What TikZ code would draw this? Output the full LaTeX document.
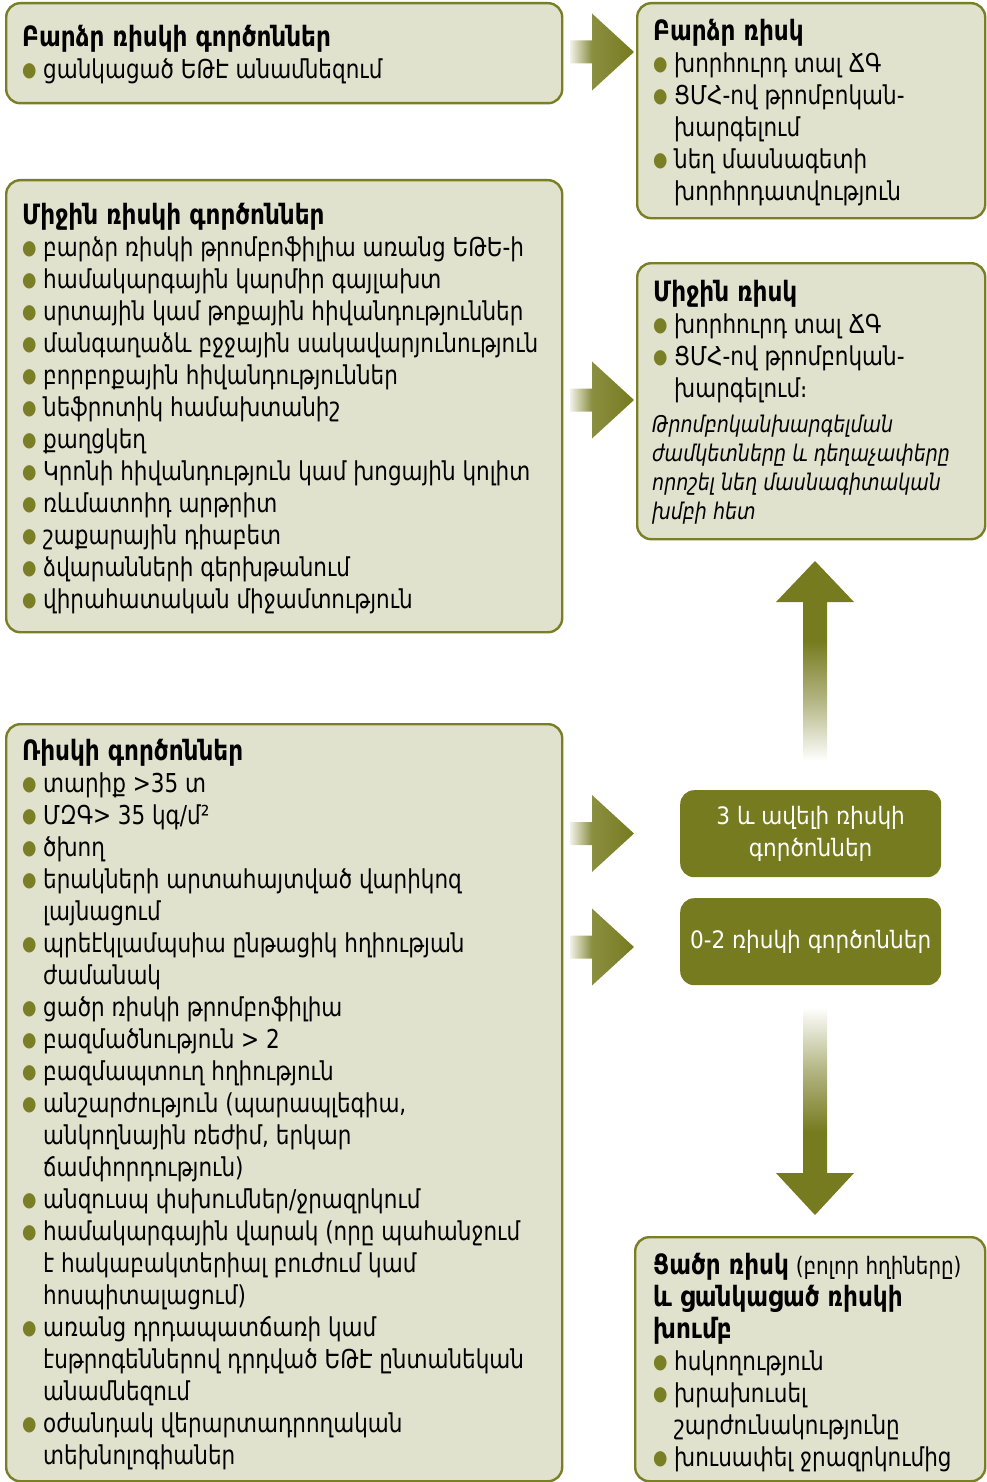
\documentclass[tikz,border=0pt]{standalone}
\usepackage{fontspec}
\setmainfont[FakeStretch=0.92]{DejaVu Sans Condensed}
\newfontfamily\plainfont{DejaVu Sans Condensed}
\definecolor{oliv}{RGB}{118,123,31}
\definecolor{boxline}{RGB}{122,126,36}
\definecolor{boxfill}{RGB}{225,226,206}
\pgfdeclarehorizontalshading{harrow}{100bp}{color(0bp)=(oliv!10); color(25bp)=(oliv!10); color(42bp)=(oliv!85); color(75bp)=(oliv); color(100bp)=(oliv)}
\pgfdeclareverticalshading{uparrow}{100bp}{color(0bp)=(white); color(25bp)=(white); color(40bp)=(oliv!55); color(55bp)=(oliv); color(100bp)=(oliv)}
\pgfdeclareverticalshading{downarrow}{100bp}{color(0bp)=(oliv); color(45bp)=(oliv); color(60bp)=(oliv!55); color(75bp)=(white); color(100bp)=(white)}
\newcommand{\bul}{\makebox[21pt][l]{\raisebox{2pt}{\color{boxline}\fontsize{20}{20}\selectfont ●}}}
\newcommand{\ind}{\hspace*{21pt}}
\newcommand{\ttl}[1]{{\fontsize{28}{32}\selectfont\bfseries #1}}
\tikzset{
  box/.style={draw=boxline, line width=2.4pt, fill=boxfill, rounded corners=14pt, anchor=north west, inner sep=0pt},
  darkbox/.style={fill=oliv, rounded corners=14pt, anchor=north west, inner sep=0pt, text=white, align=center, font=\plainfont\fontsize{24}{32}\selectfont},
  txt/.style={anchor=north west, inner sep=0pt, align=left, font=\fontsize{26}{32}\selectfont},
  itxt/.style={anchor=north west, inner sep=0pt, align=left, font=\fontsize{23}{29}\selectfont\itshape}
}
\begin{document}
\begin{tikzpicture}[x=1pt,y=-1pt]
\useasboundingbox (0,0) rectangle (986,1482);
% boxes
\node[box, minimum width=556pt, minimum height=100pt] (A) at (5,2) {};
\node[box, minimum width=348pt, minimum height=215pt] (B) at (636,2) {};
\node[box, minimum width=556pt, minimum height=452pt] (C) at (5,179) {};
\node[box, minimum width=348pt, minimum height=276pt] (D) at (636,262) {};
\node[box, minimum width=556pt, minimum height=757pt] (E) at (5,723) {};
\node[box, minimum width=350pt, minimum height=244pt] (H) at (634,1236) {};
\node[darkbox, minimum width=261pt, minimum height=87pt] (F) at (680,790) {3 և ավելի ռիսկի\\գործոններ};
\node[darkbox, minimum width=261pt, minimum height=87pt] (G) at (680,898) {0-2 ռիսկի գործոններ};
% texts
\node[txt] (Atxt) at (22,46-22.4) {\strut\ttl{Բարձր ռիսկի գործոններ}\\
\bul ցանկացած ԵԹԷ անամնեզում};
\node[txt] (Btxt) at (653,40-22.4) {\strut\ttl{Բարձր ռիսկ}\\
\bul խորհուրդ տալ ՃԳ\\
\bul ՑՄՀ-ով թրոմբոկան-\\
\ind խարգելում\\
\bul նեղ մասնագետի\\
\ind խորհրդատվություն};
\node[txt] (Ctxt) at (22,224-22.4) {\strut\ttl{Միջին ռիսկի գործոններ}\\
\bul բարձր ռիսկի թրոմբոֆիլիա առանց ԵԹԵ-ի\\
\bul համակարգային կարմիր գայլախտ\\
\bul սրտային կամ թոքային հիվանդություններ\\
\bul մանգաղաձև բջջային սակավարյունություն\\
\bul բորբոքային հիվանդություններ\\
\bul նեֆրոտիկ համախտանիշ\\
\bul քաղցկեղ\\
\bul Կրոնի հիվանդություն կամ խոցային կոլիտ\\
\bul ռևմատոիդ արթրիտ\\
\bul շաքարային դիաբետ\\
\bul ձվարանների գերխթանում\\
\bul վիրահատական միջամտություն};
\node[txt] (Dtxt) at (653,301-22.4) {\strut\ttl{Միջին ռիսկ}\\
\bul խորհուրդ տալ ՃԳ\\
\bul ՑՄՀ-ով թրոմբոկան-\\
\ind խարգելում։};
\node[itxt] (Ditxt) at (652,432-20.3) {\strut Թրոմբոկանխարգելման\\
ժամկետները և դեղաչափերը\\
որոշել նեղ մասնագիտական\\
խմբի հետ};
\node[txt] (Etxt) at (22,760-22.4) {\strut\ttl{Ռիսկի գործոններ}\\
\bul տարիք >35 տ\\
\bul ՄԶԳ> 35 կգ/մ²\\
\bul ծխող\\
\bul երակների արտահայտված վարիկոզ\\
\ind լայնացում\\
\bul պրեէկլամպսիա ընթացիկ հղիության\\
\ind ժամանակ\\
\bul ցածր ռիսկի թրոմբոֆիլիա\\
\bul բազմածնություն > 2\\
\bul բազմապտուղ հղիություն\\
\bul անշարժություն (պարապլեգիա,\\
\ind անկողնային ռեժիմ, երկար\\
\ind ճամփորդություն)\\
\bul անզուսպ փսխումներ/ջրազրկում\\
\bul համակարգային վարակ (որը պահանջում\\
\ind է հակաբակտերիալ բուժում կամ\\
\ind հոսպիտալացում)\\
\bul առանց դրդապատճառի կամ\\
\ind էսթրոգեններով դրդված ԵԹԷ ընտանեկան\\
\ind անամնեզում\\
\bul օժանդակ վերարտադրողական\\
\ind տեխնոլոգիաներ};
\node[txt] (Htxt) at (653,1274-22.4) {\strut\ttl{Ցածր ռիսկ} {\fontsize{24}{32}\selectfont(բոլոր հղիները)}\\
\ttl{և ցանկացած ռիսկի}\\
\ttl{խումբ}\\
\bul հսկողություն\\
\bul խրախուսել\\
\ind շարժունակությունը\\
\bul խուսափել ջրազրկումից};
% horizontal arrows
\foreach \c in {52, 400, 833.5, 947} {
  \shade[shading=harrow] (570,\c-11.5) -- (592,\c-11.5) -- (592,\c-38.5) -- (634,\c) -- (592,\c+38.5) -- (592,\c+11.5) -- (570,\c+11.5) -- cycle;
}
% vertical arrows
\shade[shading=uparrow] (803,761) -- (803,602) -- (776,602) -- (815,561) -- (854,602) -- (827,602) -- (827,761) -- cycle;
\shade[shading=downarrow] (803,1007) -- (803,1173) -- (776,1173) -- (815,1215) -- (854,1173) -- (827,1173) -- (827,1007) -- cycle;
\end{tikzpicture}
\end{document}
